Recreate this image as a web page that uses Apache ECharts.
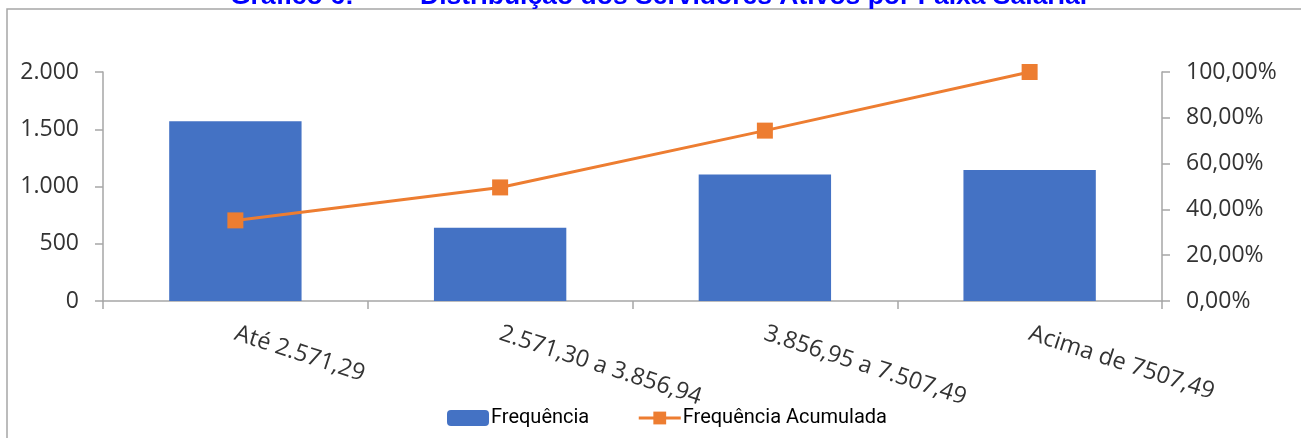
<!DOCTYPE html>
<html>
<head>
<meta charset="utf-8">
<script src="https://cdn.jsdelivr.net/npm/echarts@6/dist/echarts.min.js"></script>
<style>
html,body{margin:0;padding:0;background:#fff;}
#chart{width:1301px;height:438px;}
</style>
</head>
<body>
<div id="chart"></div>
<script>
// dados do gráfico
var categorias = ['Até 2.571,29', '2.571,30 a 3.856,94', '3.856,95 a 7.507,49', 'Acima de 7507,49'];
var frequencia = [1570, 640, 1105, 1145];
var acumulada = [35.2, 49.6, 74.4, 100];
var ticksEsq = [0, 500, 1000, 1500, 2000];
var ticksDir = [0, 20, 40, 60, 80, 100];

var fonte = '"Open Sans", "Noto Sans", sans-serif';
var cinza = '#a6a6a6';
var fonteTitulo = 'bold 26.5px "Liberation Sans", Arial, sans-serif';

function milhar(v){
    return v.toString().replace(/\B(?=(\d{3})+(?!\d))/g, '.');
}

var myChart = echarts.init(document.getElementById('chart'));

var option = {
    animation: false,
    backgroundColor: '#fff',
    graphic: [
        {
            type: 'rect', z: -10,
            shape: {x: 7, y: 9, width: 1400, height: 500},
            style: {fill: 'none', stroke: cinza, lineWidth: 1.5}
        },
        {
            type: 'text', left: 230, top: -17,
            style: {text: 'Gráfico 6:', fill: '#0000ff', font: fonteTitulo}
        },
        {
            type: 'text', left: 420, top: -17,
            style: {text: 'Distribuição dos Servidores Ativos por Faixa Salarial', fill: '#0000ff', font: fonteTitulo}
        }
    ],
    grid: {
        left: 103,
        right: 139,
        top: 72,
        bottom: 137,
        containLabel: false
    },
    legend: {
        data: ['Frequência', 'Frequência Acumulada'],
        bottom: 10,
        left: 447,
        padding: 0,
        itemWidth: 42,
        itemHeight: 16,
        itemGap: 48,
        lineStyle: {width: 3},
        textStyle: {fontFamily: 'Roboto, "Open Sans", sans-serif', fontSize: 20, color: '#000', padding: [0, 0, 0, -3]}
    },
    xAxis: {
        type: 'category',
        data: categorias,
        axisLine: {lineStyle: {color: cinza, width: 1.5}},
        axisTick: {show: true, length: 8, lineStyle: {color: cinza, width: 1.5}},
        axisLabel: {
            rotate: -18,
            margin: 32,
            fontFamily: fonte,
            fontSize: 23.5,
            color: '#333'
        }
    },
    yAxis: [
        {
            type: 'value',
            min: ticksEsq[0],
            max: ticksEsq[ticksEsq.length - 1],
            interval: 500,
            axisLine: {show: true, lineStyle: {color: cinza, width: 1.5}},
            axisTick: {show: true, length: 8, lineStyle: {color: cinza, width: 1.5}},
            splitLine: {show: false},
            axisLabel: {
                margin: 24,
                fontFamily: fonte,
                fontSize: 23,
                color: '#333',
                formatter: function(v){ return milhar(v); }
            }
        },
        {
            type: 'value',
            position: 'right',
            min: ticksDir[0],
            max: ticksDir[ticksDir.length - 1],
            interval: 20,
            axisLine: {show: true, lineStyle: {color: cinza, width: 1.5}},
            axisTick: {show: true, length: 8, lineStyle: {color: cinza, width: 1.5}},
            splitLine: {show: false},
            axisLabel: {
                margin: 24,
                fontFamily: fonte,
                fontSize: 23,
                color: '#333',
                formatter: function(v){ return v.toFixed(2).replace('.', ',') + '%'; }
            }
        }
    ],
    series: [
        {
            name: 'Frequência',
            type: 'bar',
            data: frequencia,
            barWidth: '50%',
            itemStyle: {color: '#4472c4'},
            legendIcon: 'rect'
        },
        {
            name: 'Frequência Acumulada',
            type: 'line',
            yAxisIndex: 1,
            data: acumulada,
            symbol: 'rect',
            symbolSize: 16,
            lineStyle: {color: '#ed7d31', width: 3},
            itemStyle: {color: '#ed7d31'}
        }
    ]
};

myChart.setOption(option);
</script>
</body>
</html>
